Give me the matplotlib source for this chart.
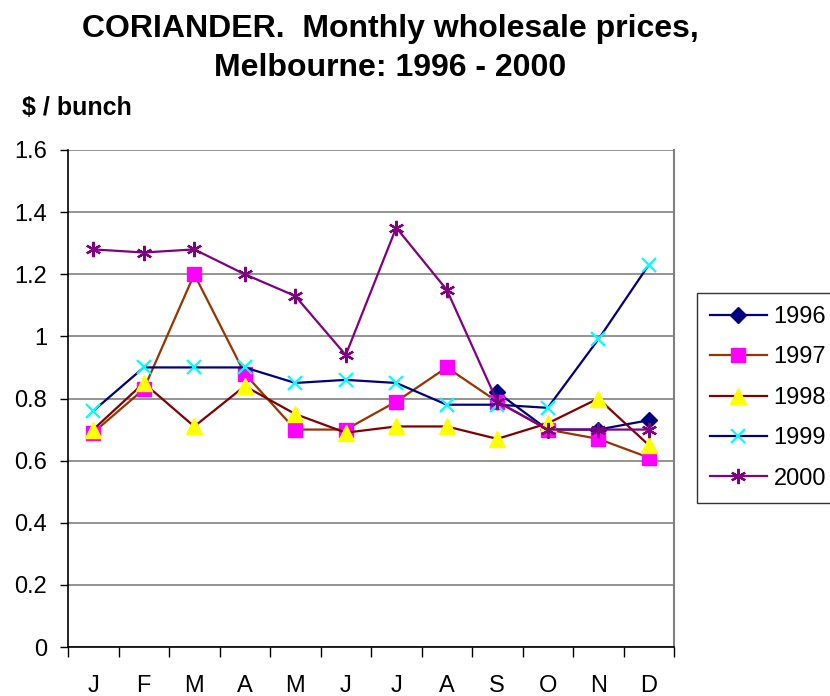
import numpy as np
import matplotlib
matplotlib.use("Agg")
import matplotlib.pyplot as plt

plt.rcParams['font.family'] = ['Liberation Sans', 'DejaVu Sans']

months = ["J", "F", "M", "A", "M", "J", "J", "A", "S", "O", "N", "D"]
nan = np.nan
y1996 = [nan, nan, nan, nan, nan, nan, nan, nan, 0.82, 0.70, 0.70, 0.73]
y1997 = [0.69, 0.83, 1.20, 0.88, 0.70, 0.70, 0.79, 0.90, 0.79, 0.70, 0.67, 0.61]
y1998 = [0.70, 0.85, 0.71, 0.84, 0.75, 0.69, 0.71, 0.71, 0.67, 0.72, 0.80, 0.65]
y1999 = [0.76, 0.90, 0.90, 0.90, 0.85, 0.86, 0.85, 0.78, 0.78, 0.77, 0.99, 1.23]
y2000 = [1.28, 1.27, 1.28, 1.20, 1.13, 0.94, 1.35, 1.15, 0.79, 0.70, 0.70, 0.70]
yticks = [0, 0.2, 0.4, 0.6, 0.8, 1.0, 1.2, 1.4, 1.6]

series = [
    ("1996", y1996, dict(color="#000080", marker="D", mfc="#000080", mec="#000080", ms=8)),
    ("1997", y1997, dict(color="#993300", marker="s", mfc="#FF00FF", mec="#FF00FF", ms=10)),
    ("1998", y1998, dict(color="#800000", marker="^", mfc="#FFFF00", mec="#FFFF00", ms=11)),
    ("1999", y1999, dict(color="#000080", marker="x", mfc="#00FFFF", mec="#00FFFF", ms=10, mew=1.6)),
    ("2000", y2000, dict(color="#800080", marker=(6, 2, 0), mfc="#800080", mec="#800080", ms=11, mew=1.6)),
]

fig = plt.figure(figsize=(8.3, 6.96), dpi=100)
ax = fig.add_axes([68/830, 1-647/696, (674-68)/830, (647-150)/696])

x = np.arange(len(months))
handles = []
for name, vals, st in series:
    h, = ax.plot(x, np.array(vals, dtype=float), lw=1.6, label=name, zorder=3, **st)
    handles.append(h)

ax.set_xlim(-0.5, 11.5)
ax.set_ylim(0, 1.6)
ax.set_yticks(yticks)
ax.set_yticklabels(["%g" % v for v in yticks])
ax.set_xticks(x)
ax.set_xticklabels(months)
ax.set_xticks(np.arange(-0.5, 12, 1), minor=True)
ax.tick_params(axis='x', which='major', length=0, pad=20, labelsize=17)
ax.tick_params(axis='x', which='minor', length=7, width=1, direction='out')
ax.tick_params(axis='y', length=6, width=1, direction='out', labelsize=17, pad=9)

ax.yaxis.grid(True, color="#808080", lw=1.2, zorder=0)
ax.set_axisbelow(True)
ax.spines['top'].set_visible(False)
ax.spines['right'].set_color("#808080")
ax.spines['right'].set_linewidth(1.5)
ax.spines['left'].set_color("black")
ax.spines['bottom'].set_color("black")
ax.spines['left'].set_linewidth(1.2)
ax.spines['bottom'].set_linewidth(1.2)

fig.text(390/830, 1-29/696, "CORIANDER.  Monthly wholesale prices,", ha='center', va='center',
         fontsize=23, fontweight='bold')
fig.text(390/830, 1-68/696, "Melbourne: 1996 - 2000", ha='center', va='center',
         fontsize=23, fontweight='bold')
fig.text(22/830, 1-108/696, "$ / bunch", ha='left', va='center', fontsize=18, fontweight='bold')

leg = fig.legend(handles=handles, loc='upper left', bbox_to_anchor=(697/830, 1-293/696),
                 fontsize=17, frameon=True, fancybox=False, handlelength=2.4,
                 labelspacing=0.78, borderpad=0.55, handletextpad=0.3, borderaxespad=0)
leg.get_frame().set_edgecolor("black")
leg.get_frame().set_linewidth(1.0)

fig.savefig("out.png", dpi=100)
